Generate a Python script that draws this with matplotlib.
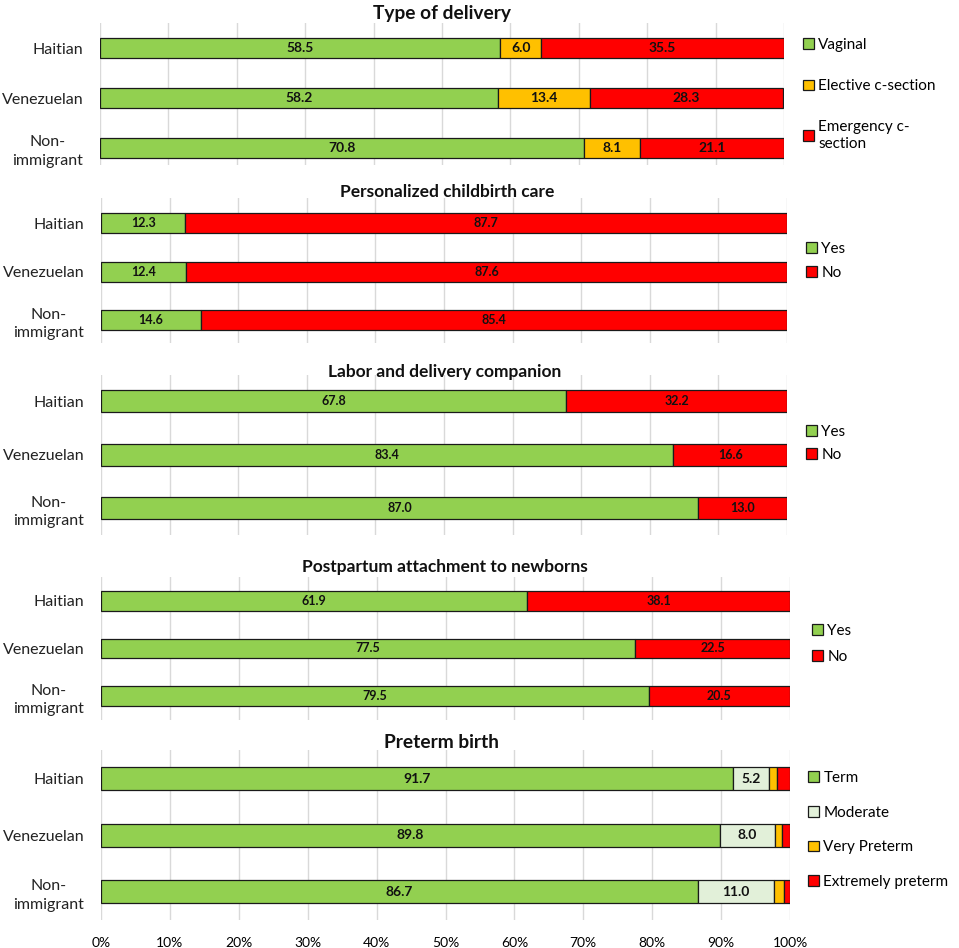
import matplotlib.pyplot as plt
import numpy as np

plt.rcParams['font.family'] = ['Lato', 'DejaVu Sans']

groups = ['Haitian', 'Venezuelan', 'Non-\nimmigrant']

# Type of delivery
delivery_names = ['Vaginal', 'Elective c-section', 'Emergency c-\nsection']
vaginal = [58.5, 58.2, 70.8]
elective = [6.0, 13.4, 8.1]
emergency = [35.5, 28.3, 21.1]

# Personalized childbirth care
care_yes = [12.3, 12.4, 14.6]
care_no = [87.7, 87.6, 85.4]

# Labor and delivery companion
comp_yes = [67.8, 83.4, 87.0]
comp_no = [32.2, 16.6, 13.0]

# Postpartum attachment to newborns
attach_yes = [61.9, 77.5, 79.5]
attach_no = [38.1, 22.5, 20.5]

# Preterm birth
preterm_names = ['Term', 'Moderate', 'Very Preterm', 'Extremely preterm']
term = [91.7, 89.8, 86.7]
moderate = [5.2, 8.0, 11.0]
very_preterm = [1.2, 1.0, 1.4]
extreme_preterm = [1.9, 1.2, 0.9]

yes_no = ['Yes', 'No']
GREEN, ORANGE, RED, PALE = '#92D050', '#FFC000', '#FF0000', '#E2F0D9'

W, H = 959, 948
fig = plt.figure(figsize=(W / 100, H / 100), dpi=100)


def px_rect(x0, x1, y0, y1):
    return [x0 / W, 1 - y1 / H, (x1 - x0) / W, (y1 - y0) / H]


panels = [
    dict(title='Type of delivery', series=[vaginal, elective, emergency],
         names=delivery_names, colors=[GREEN, ORANGE, RED],
         rect=(100, 784, 23, 165), ylim=(2.34, -0.5), title_xy=(442, 13), title_fs=13.8,
         leg_xy=(803, 38), leg_sp=1.78, lab_fs=10),
    dict(title='Personalized childbirth care', series=[care_yes, care_no],
         names=yes_no, colors=[GREEN, RED],
         rect=(101, 787, 198, 343), ylim=(2.47, -0.52), title_xy=(447, 192), title_fs=12.5,
         leg_xy=(806, 242), leg_sp=0.65, lab_fs=9),
    dict(title='Labor and delivery companion', series=[comp_yes, comp_no],
         names=yes_no, colors=[GREEN, RED],
         rect=(101, 787, 375, 535), ylim=(2.5, -0.49), title_xy=(445, 372), title_fs=12.5,
         leg_xy=(806, 425), leg_sp=0.6, lab_fs=9),
    dict(title='Postpartum attachment to newborns', series=[attach_yes, attach_no],
         names=yes_no, colors=[GREEN, RED],
         rect=(101, 790, 577, 720), ylim=(2.5, -0.5), title_xy=(445, 567), title_fs=12.5,
         leg_xy=(812, 624), leg_sp=0.78, lab_fs=9),
    dict(title='Preterm birth', series=[term, moderate, very_preterm, extreme_preterm],
         names=preterm_names, colors=[GREEN, PALE, ORANGE, RED],
         rect=(101, 790, 750, 920), ylim=(2.5, -0.51), title_xy=(442, 742), title_fs=13.8,
         leg_xy=(808, 771), leg_sp=1.35, lab_fs=10),
]

y = np.arange(len(groups))
for i, p in enumerate(panels):
    ax = fig.add_axes(px_rect(*p['rect']))
    left = np.zeros(len(groups))
    handles = []
    for vals, name, col in zip(p['series'], p['names'], p['colors']):
        bars = ax.barh(y, vals, left=left, height=0.41, color=col,
                       edgecolor='#1a1a1a', linewidth=0.9, label=name, zorder=3)
        labels = ['%.1f' % v if v >= 3 else '' for v in vals]
        ax.bar_label(bars, labels=labels, label_type='center',
                     fontsize=p['lab_fs'], fontweight='bold', color='#111111')
        handles.append(bars)
        left += np.array(vals)
    ax.set_xlim(0, 100)
    ax.set_ylim(*p['ylim'])
    ax.set_yticks(y)
    ax.set_yticklabels(groups, fontsize=11.5, color='#222222', linespacing=1.4)
    ax.tick_params(axis='y', length=0, pad=12)
    ax.set_xticks(np.arange(0, 101, 10))
    ax.grid(axis='x', color='#d9d9d9', linewidth=1, zorder=0)
    for s in ax.spines.values():
        s.set_visible(False)
    if i == len(panels) - 1:
        ax.set_xticklabels(['%d%%' % v for v in range(0, 101, 10)], fontsize=10)
        ax.tick_params(axis='x', length=0, pad=12)
    else:
        ax.tick_params(axis='x', length=0, labelbottom=False)
    for t in ax.get_yticklabels():
        t.set_multialignment('center')
    tx, ty = p['title_xy']
    fig.text(tx / W, 1 - ty / H, p['title'], ha='center', va='center',
             fontsize=p['title_fs'], fontweight='bold', color='#111111')
    lx, ly = p['leg_xy']
    ax.legend(handles=handles, loc='upper left',
              bbox_to_anchor=(lx / W, 1 - ly / H), bbox_transform=fig.transFigure,
              frameon=False, fontsize=11, handlelength=0.7, handleheight=0.7,
              handletextpad=0.3, labelspacing=p['leg_sp'], borderpad=0,
              borderaxespad=0)

fig.savefig('out.png', dpi=100)
